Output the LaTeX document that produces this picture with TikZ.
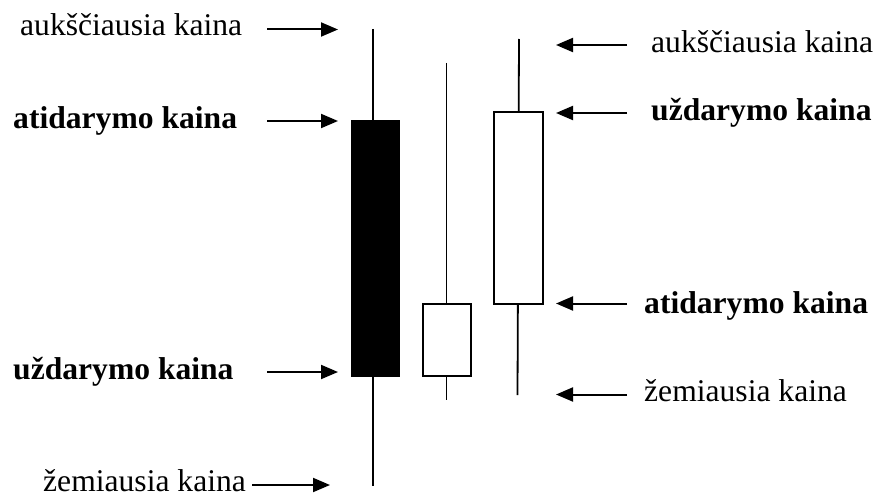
\documentclass[tikz,border=0pt]{standalone}
\usepackage{fontspec}
\setmainfont{Liberation Serif}
\usetikzlibrary{arrows.meta}
\begin{document}
\begin{tikzpicture}[x=1pt,y=-1pt,
  lbl/.style={anchor=base west,inner sep=0pt,font=\fontsize{31.6}{38}\selectfont},
  blbl/.style={anchor=base west,inner sep=0pt,font=\fontsize{31.6}{38}\selectfont\bfseries},
  wick/.style={line width=1.8pt},
  bodyline/.style={line width=2pt},
  ptr/.style={line width=2pt,-{Triangle[length=17pt,width=14pt]}}]
\useasboundingbox (0,0) rectangle (878,495);

% candles
\draw[wick] (373,29) coordinate (h1) -- (373,486) coordinate (l1);
\fill[black] (350.5,119.5) rectangle (400,376.5);
\coordinate (b1) at (350.5,119.5);

\draw[wick] (446.5,63) coordinate (h2) -- (446.5,400) coordinate (l2);
\draw[bodyline,fill=white] (422.5,303.5) rectangle (471,376);

\draw[wick] (519,39) coordinate (h3) -- (517.5,395) coordinate (l3);
\draw[bodyline,fill=white] (494,112) rectangle (542.5,303.5);

% left labels
\node[lbl]  (tl1) at (20,36)  {aukščiausia kaina};
\node[blbl] (tl2) at (13,128) {atidarymo kaina};
\node[blbl] (tl3) at (13,379) {uždarymo kaina};
\node[lbl]  (tl4) at (43,491) {žemiausia kaina};

% right labels
\node[lbl]  (tr1) at (651,53)  {aukščiausia kaina};
\node[blbl] (tr2) at (651,120) {uždarymo kaina};
\node[blbl] (tr3) at (644,313) {atidarymo kaina};
\node[lbl]  (tr4) at (644,401.5) {žemiausia kaina};

% arrow ends
\coordinate (sl1) at (267,29.5);  \coordinate (el1) at (338,29.5);
\coordinate (sl2) at (267,121);   \coordinate (el2) at (338,121);
\coordinate (sl3) at (267,372);   \coordinate (el3) at (338,372);
\coordinate (sl4) at (252,485);   \coordinate (el4) at (330,485);

\coordinate (sr1) at (627,45);    \coordinate (er1) at (556,45);
\coordinate (sr2) at (627,113);   \coordinate (er2) at (556,113);
\coordinate (sr3) at (627,303.5); \coordinate (er3) at (556,303.5);
\coordinate (sr4) at (627,394.5); \coordinate (er4) at (556,394.5);

\foreach \i in {1,2,3,4} {
  \draw[ptr] (sl\i) -- (el\i);
  \draw[ptr] (sr\i) -- (er\i);
}
\end{tikzpicture}
\end{document}
